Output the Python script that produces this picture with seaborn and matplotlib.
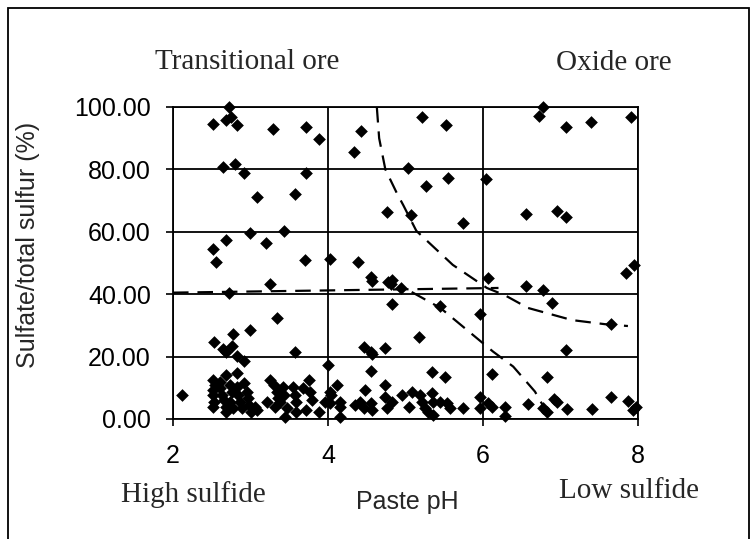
import matplotlib
matplotlib.use("Agg")
import matplotlib.pyplot as plt
import seaborn as sns
import pandas as pd
from matplotlib.patches import Rectangle

# samples: paste pH vs sulfate / total sulfur (%)
paste_ph = [
    2.72, 2.52, 2.68, 2.75, 2.82, 3.29, 3.72, 3.88, 2.64, 2.80, 2.92, 3.72, 3.08, 3.58,
    2.52, 2.69, 2.99, 3.20, 3.43, 2.55, 3.70, 4.02,
    3.25, 2.72, 3.34, 2.78, 2.99, 2.53, 2.64, 2.69, 2.76, 2.82, 2.92, 3.57, 2.12,
    2.52, 2.54, 2.51, 2.52, 2.53, 2.52, 2.60, 2.61, 2.63, 2.66, 2.68, 2.69, 2.68, 2.74,
    2.76, 2.74, 2.78, 2.83, 2.82, 2.84, 2.86, 2.89, 2.91, 2.95, 2.97, 2.98, 3.00, 3.06,
    3.08, 3.21, 3.25, 3.30, 3.34, 3.36, 3.32, 3.38, 3.42, 3.43, 3.45, 3.47, 3.55, 3.57,
    3.59, 3.59, 3.68, 3.75, 3.77, 3.79, 3.72, 3.88, 4.02, 4.02,
    4.42, 4.34, 5.21, 5.52, 5.03, 5.55, 5.26, 6.04, 4.76, 5.07, 5.74, 4.39,
    4.56, 4.57, 4.78, 4.82, 4.81, 4.94, 6.07, 4.82, 5.45, 5.96, 5.18, 4.46, 4.56, 4.57,
    4.74, 4.00, 4.56, 5.34, 5.51, 6.12,
    4.11, 4.04, 4.15, 4.15, 3.96, 4.15, 4.35, 4.41, 4.46, 4.56, 4.57, 4.48, 4.74, 4.74,
    4.76, 4.83, 4.95, 5.05, 5.08, 5.19, 5.21, 5.34, 5.36, 5.25, 5.29, 5.35, 5.44, 5.53,
    5.57, 5.74, 5.96, 5.96, 6.07, 6.11, 6.28, 6.28,
    6.78, 6.72, 7.07, 7.39, 7.91, 6.56, 6.95, 7.07, 7.95, 7.85, 6.56, 6.78, 6.89, 7.65,
    7.07, 6.83, 6.58, 6.77, 6.83, 6.91, 6.96, 7.08, 7.41, 7.65, 7.87, 7.93, 7.97,
]
sulfate_pct = [
    99.9, 94.6, 95.8, 96.7, 94.2, 92.9, 93.7, 89.7, 80.9, 81.7, 79.0, 79.0, 71.0, 72.0,
    54.5, 57.4, 59.5, 56.5, 60.3, 50.4, 51.0, 51.3,
    43.3, 40.5, 32.5, 27.1, 28.4, 24.6, 22.4, 21.4, 23.5, 20.3, 18.6, 21.4, 7.7,
    12.5, 10.9, 9.3, 7.7, 5.6, 3.7, 12.0, 9.8, 7.7, 6.1, 3.9, 2.4, 14.1, 10.9,
    8.8, 5.6, 3.4, 14.6, 10.4, 7.7, 5.6, 3.4, 11.4, 8.8, 6.6, 4.5, 2.4, 3.9,
    2.9, 5.6, 12.5, 10.9, 8.8, 6.6, 3.9, 5.6, 10.4, 7.7, 0.8, 3.4, 10.4, 7.7,
    5.6, 2.4, 9.8, 12.5, 8.8, 6.1, 2.9, 2.4, 8.8, 5.1,
    92.3, 85.7, 96.7, 94.2, 80.6, 77.4, 74.8, 76.9, 66.4, 65.4, 62.7, 50.2,
    45.6, 44.2, 44.0, 44.5, 43.2, 41.9, 45.3, 36.8, 36.2, 33.7, 26.4, 23.2, 21.4, 20.7,
    22.7, 17.3, 15.4, 15.2, 13.4, 14.3,
    10.9, 7.7, 5.6, 3.9, 5.6, 0.8, 4.5, 5.6, 3.4, 5.1, 2.9, 9.3, 10.9, 7.1,
    3.4, 5.6, 7.7, 3.9, 8.8, 7.7, 5.6, 8.2, 5.6, 3.4, 2.4, 1.3, 5.6, 5.1,
    3.4, 3.4, 7.1, 3.6, 5.1, 3.9, 3.9, 1.0,
    100.0, 97.2, 93.7, 95.3, 96.9, 65.7, 66.7, 64.8, 49.4, 46.7, 42.7, 41.3, 37.1, 30.3,
    22.1, 13.6, 4.7, 3.4, 2.4, 6.4, 5.6, 3.3, 3.3, 7.2, 5.9, 2.9, 3.9,
]

# dashed boundary lines
flat_ph = [2.0, 6.2]
flat_pct = [40.5, 42.0]
drop_ph = [5.08, 5.45, 6.13, 6.39, 6.67, 6.85]
drop_pct = [40.7, 35.6, 21.6, 16.8, 8.8, 1.0]
oxide_ph = [4.63, 4.66, 4.74, 4.89, 4.97, 5.14, 5.36, 5.61, 6.05, 6.28, 6.58, 7.15, 7.57, 7.87]
oxide_pct = [100.0, 90.0, 80.0, 72.3, 68.6, 60.3, 55.2, 49.4, 42.0, 39.7, 35.6, 31.7, 30.4, 29.8]

sns.set_theme(style="white")
plt.rcParams['font.family'] = ['Liberation Sans', 'DejaVu Sans']

fig = plt.figure(figsize=(7.53, 5.39), dpi=100)
ax = fig.add_axes([173/753, 1 - 419/539, 465/753, 312/539])

samples = pd.DataFrame({"ph": paste_ph, "pct": sulfate_pct})
sns.scatterplot(data=samples, x="ph", y="pct", marker="D", s=42, color="black",
                edgecolor="black", linewidth=0, ax=ax, clip_on=False, zorder=4)

for xs, ys in [(flat_ph, flat_pct), (drop_ph, drop_pct), (oxide_ph, oxide_pct)]:
    line = pd.DataFrame({"ph": xs, "pct": ys})
    sns.lineplot(data=line, x="ph", y="pct", sort=False, estimator=None, color="black",
                 lw=1.6, dashes=False, ax=ax, zorder=3)
for ln in ax.lines:
    ln.set_dashes((7, 4))

ax.set_xlim(2, 8)
ax.set_ylim(0, 100)
ax.set_xticks([2, 4, 6, 8])
ax.set_yticks([0, 20, 40, 60, 80, 100])
ax.set_yticklabels([f"{v:.2f}" for v in [0, 20, 40, 60, 80, 100]])
ax.set_xlabel("")
ax.set_ylabel("")
ax.grid(True, color="black", lw=1.3)
for sp in ax.spines.values():
    sp.set_color("black")
    sp.set_linewidth(1.3)
ax.tick_params(axis="both", which="major", bottom=True, left=True, direction="out",
               length=5, width=1.2, color="black", labelsize=18, labelcolor="black")
ax.tick_params(axis="y", pad=11)
ax.tick_params(axis="x", pad=13)

serif = ['Liberation Serif', 'DejaVu Serif']
fig.text(247.5/753, 1 - 69/539, "Transitional ore", family=serif, fontsize=21,
         ha="center", va="baseline")
fig.text(614/753, 1 - 70/539, "Oxide ore", family=serif, fontsize=21,
         ha="center", va="baseline")
fig.text(193/753, 1 - 502/539, "High sulfide", family=serif, fontsize=21,
         ha="center", va="baseline")
fig.text(629/753, 1 - 498/539, "Low sulfide", family=serif, fontsize=21,
         ha="center", va="baseline")
fig.text(407/753, 1 - 509/539, "Paste pH", fontsize=18, ha="center", va="baseline")
fig.text(28/753, 1 - 245/539, "Sulfate/total sulfur (%)", fontsize=18,
         rotation=90, ha="center", va="center")

# outer frame of the scanned figure
fig.patches.append(Rectangle((8/753, -0.05), 741/753, 1 - 8/539 + 0.05,
                             transform=fig.transFigure, fill=False, ec="black", lw=1.3))

fig.savefig("out.png", dpi=100)
